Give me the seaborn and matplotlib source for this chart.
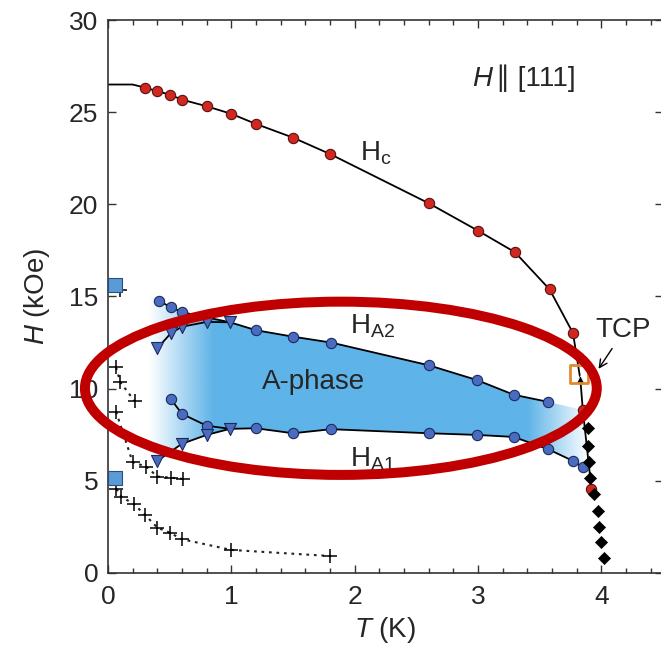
import numpy as np
import matplotlib
matplotlib.use("Agg")
import matplotlib.pyplot as plt
import seaborn as sns
from matplotlib.patches import Ellipse, Polygon
from matplotlib.ticker import MultipleLocator

# --- data ---
hc_T = [0.30, 0.40, 0.50, 0.60, 0.80, 1.00, 1.20, 1.50, 1.80, 2.60, 3.00, 3.30, 3.58, 3.77, 3.85, 3.92]
hc_H = [26.33, 26.14, 25.95, 25.68, 25.32, 24.91, 24.36, 23.62, 22.73, 20.06, 18.57, 17.40, 15.39, 13.02, 8.84, 4.56]
hc_line_T = [0.0, 0.20] + hc_T[:14] + [3.83] + hc_T[14:]
hc_line_H = [26.5, 26.5] + hc_H[:14] + [10.51] + hc_H[14:]

ha2_T = [0.41, 0.51, 0.60, 1.20, 1.50, 1.81, 2.60, 2.99, 3.29, 3.57]
ha2_H = [14.77, 14.42, 14.15, 13.17, 12.82, 12.50, 11.27, 10.47, 9.67, 9.28]
ha2_tri_T = [0.40, 0.51, 0.60, 0.80, 0.99]
ha2_tri_H = [12.19, 13.01, 13.36, 13.62, 13.60]

ha1_T = [0.51, 0.60, 0.80, 1.20, 1.50, 1.81, 2.60, 2.99, 3.29, 3.57, 3.77, 3.85]
ha1_H = [9.43, 8.63, 7.99, 7.85, 7.58, 7.80, 7.58, 7.49, 7.38, 6.71, 6.08, 5.74]
ha1_tri_T = [0.40, 0.60, 0.80, 0.99]
ha1_tri_H = [6.08, 7.01, 7.49, 7.82]

dia_T = [3.89, 3.89, 3.90, 3.91, 3.94, 3.97, 3.98, 4.00, 4.02]
dia_H = [7.85, 6.91, 6.01, 5.15, 4.27, 3.38, 2.51, 1.68, 0.80]

tcp_T, tcp_H = 3.817, 10.78
tri_T, tri_H = 3.83, 10.51

crossA_T = [0.065, 0.10, 0.215]
crossA_H = [11.16, 10.35, 9.33]
crossB_T = [0.065, 0.20, 0.31, 0.40, 0.51, 0.61]
crossB_H = [8.75, 6.01, 5.77, 5.23, 5.17, 5.10]
crossC_T = [0.068, 0.108, 0.211, 0.30, 0.40, 0.50, 0.60, 1.00, 1.80]
crossC_H = [4.56, 4.14, 3.73, 3.15, 2.46, 2.19, 1.83, 1.25, 0.92]
cross_extra_T, cross_extra_H = [0.10], [15.36]

sq_T = [0.06, 0.06]
sq_H = [15.63, 5.15]

sns.set_theme(style="ticks")
plt.rcParams["font.family"] = ["Liberation Sans", "DejaVu Sans"]
plt.rcParams["mathtext.fontset"] = "custom"
plt.rcParams["mathtext.rm"] = "Liberation Sans"
plt.rcParams["mathtext.it"] = "Liberation Sans:italic"

fig = plt.figure(figsize=(6.61, 6.54), dpi=100)
ax = fig.add_axes([0.1634, 0.1239, 0.8396, 0.8455])

red = "#d02820"
blue = "#4a6cc0"
navy = "#1c2a5c"
fillc = np.array([94, 179, 232]) / 255

# A-phase gradient fill clipped to the region between HA2 and HA1
upper = list(zip([0.33] + ha2_T[:3] + [0.99] + ha2_T[3:] + [3.85, 3.89],
                 [15.2] + ha2_H[:3] + [13.6] + ha2_H[3:] + [8.84, 6.0]))
lower = list(zip(ha1_T[3:], ha1_H[3:]))[::-1] + list(zip(ha1_tri_T, ha1_tri_H))[::-1] + [(0.33, 5.7)]
poly = Polygon(upper + lower, closed=True, transform=ax.transData, facecolor="none", edgecolor="none")
ax.add_patch(poly)
xs = np.linspace(0.3, 3.95, 400)
alpha = np.interp(xs, [0.33, 0.85, 3.4, 3.9], [0, 1, 1, 0])
img = np.zeros((2, len(xs), 4))
img[..., :3] = fillc
img[..., 3] = alpha
im = ax.imshow(img, extent=[0.3, 3.95, 5.0, 16.0], aspect="auto", origin="lower",
               interpolation="bilinear", zorder=1)
im.set_clip_path(poly)
ax.set_xlim(0, 4.5)
ax.set_ylim(0, 30)

lw = 1.3
dot = (0, (1.3, 2.3))
sns.lineplot(x=hc_line_T, y=hc_line_H, sort=False, estimator=None, color="black", lw=lw, ax=ax, zorder=2)
sns.lineplot(x=ha2_T[:3] + [0.99] + ha2_T[3:], y=ha2_H[:3] + [13.60] + ha2_H[3:], sort=False,
             estimator=None, color="black", lw=lw, ax=ax, zorder=2)
sns.lineplot(x=ha2_tri_T, y=ha2_tri_H, sort=False, estimator=None, color="black", lw=lw, ax=ax, zorder=2)
sns.lineplot(x=ha1_T[:3] + [0.99] + ha1_T[3:], y=ha1_H[:3] + [7.82] + ha1_H[3:], sort=False,
             estimator=None, color="black", lw=lw, ax=ax, zorder=2)
sns.lineplot(x=ha1_tri_T, y=ha1_tri_H, sort=False, estimator=None, color="black", lw=lw, ax=ax, zorder=2)
for tt, hh in [(crossA_T, crossA_H), (crossB_T, crossB_H), (crossC_T, crossC_H)]:
    sns.lineplot(x=tt, y=hh, sort=False, estimator=None, color="#222222", lw=1.5, ax=ax,
                 zorder=2, linestyle=dot)
    sns.scatterplot(x=tt, y=hh, marker="+", s=90, color="black", linewidth=1.1, ax=ax, zorder=4)
sns.scatterplot(x=cross_extra_T, y=cross_extra_H, marker="+", s=90, color="black", linewidth=1.1, ax=ax, zorder=4)

sns.scatterplot(x=hc_T, y=hc_H, marker="o", s=55, color=red, edgecolor="#5a1010", linewidth=0.8, ax=ax, zorder=5)
sns.scatterplot(x=ha2_T, y=ha2_H, marker="o", s=55, color=blue, edgecolor=navy, linewidth=0.8, ax=ax, zorder=5)
sns.scatterplot(x=ha1_T, y=ha1_H, marker="o", s=55, color=blue, edgecolor=navy, linewidth=0.8, ax=ax, zorder=5)
sns.scatterplot(x=ha2_tri_T, y=ha2_tri_H, marker="v", s=75, color=blue, edgecolor=navy, linewidth=0.8, ax=ax, zorder=5)
sns.scatterplot(x=ha1_tri_T, y=ha1_tri_H, marker="v", s=75, color=blue, edgecolor=navy, linewidth=0.8, ax=ax, zorder=5)
sns.scatterplot(x=dia_T, y=dia_H, marker="D", s=38, color="black", edgecolor="black", ax=ax, zorder=5)
sns.scatterplot(x=sq_T, y=sq_H, marker="s", s=110, color="#5b9bd5", edgecolor="#2a4f80", linewidth=0.8,
                ax=ax, zorder=5, clip_on=False)
sns.scatterplot(x=[tri_T], y=[tri_H], marker="^", s=30, color="black", ax=ax, zorder=5)
sns.scatterplot(x=[tcp_T], y=[tcp_H], marker="s", s=170, facecolor="none", edgecolor="#e08a30",
                linewidth=2.0, ax=ax, zorder=6)

# red highlight ellipse
ax.add_patch(Ellipse((1.888, 10.02), 4.15, 9.4, fill=False, edgecolor="#c00000", lw=7.2,
                     zorder=8, clip_on=False))

# labels
ax.text(2.04, 22.4, r"H$_\mathrm{c}$", fontsize=20, ha="left", va="baseline")
ax.text(1.96, 13.0, r"H$_\mathrm{A2}$", fontsize=20, ha="left", va="baseline")
ax.text(1.96, 5.8, r"H$_\mathrm{A1}$", fontsize=20, ha="left", va="baseline", zorder=3)
ax.text(1.25, 10.0, "A-phase", fontsize=20, ha="left", va="baseline", zorder=6)
ax.text(3.95, 12.8, "TCP", fontsize=20, ha="left", va="baseline")
ax.text(2.95, 26.4, "H", fontsize=20, fontstyle="italic", ha="left", va="baseline")
ax.text(3.15, 26.4, "\u2225 [111]", fontsize=20, ha="left", va="baseline")
ax.annotate("", xy=(3.965, 10.95), xytext=(4.10, 12.3),
            arrowprops=dict(arrowstyle="->", color="black", lw=1.0, mutation_scale=14))

ax.set_xlabel(r"$\mathit{T}$ (K)", fontsize=20, labelpad=4)
ax.set_ylabel(r"$\mathit{H}$ (kOe)", fontsize=20, labelpad=12)
ax.xaxis.set_major_locator(MultipleLocator(1))
ax.xaxis.set_minor_locator(MultipleLocator(0.2))
ax.yaxis.set_major_locator(MultipleLocator(5))
ax.tick_params(which="both", direction="in", top=True, right=True, width=1.0, color="#333333")
ax.tick_params(which="major", length=6, labelsize=19)
ax.tick_params(axis="x", which="major", pad=9)
ax.tick_params(axis="y", which="major", pad=7)
ax.tick_params(which="minor", length=3.5)
ax.tick_params(axis="y", which="minor", left=False, right=False)
for s in ax.spines.values():
    s.set_linewidth(1.2)
    s.set_color("#333333")

fig.savefig("out.png", dpi=100)
